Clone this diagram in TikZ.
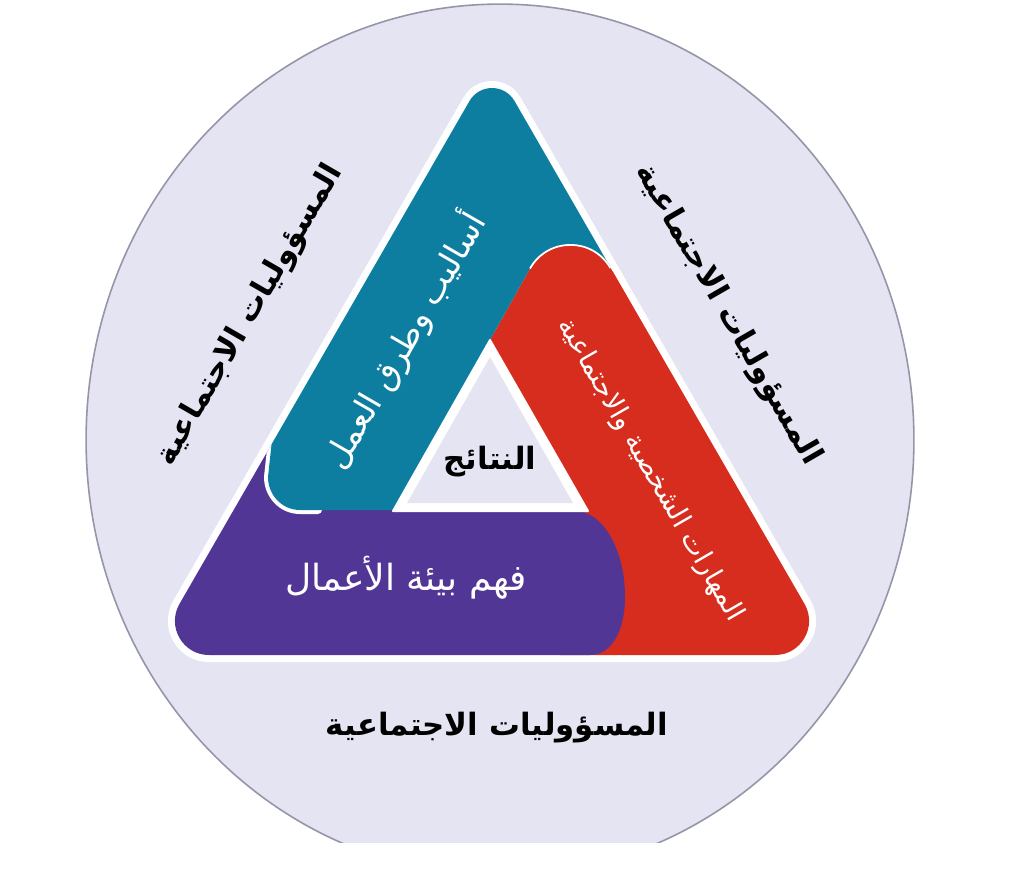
\documentclass[tikz,border=0pt]{standalone}
\usepackage{fontspec}
\TeXXeTstate=1
\newfontfamily\arabicfont[Script=Arabic]{DejaVu Sans}
\definecolor{bgLav}{RGB}{229,228,242}
\definecolor{ringGray}{RGB}{150,148,168}
\definecolor{tealC}{RGB}{14,126,160}
\definecolor{redC}{RGB}{214,45,30}
\definecolor{purpC}{RGB}{82,54,150}
\tikzset{
  bandtxt/.style={text=white, inner sep=0pt, font=\arabicfont\fontsize{#1}{#1}\selectfont},
  outtxt/.style={text=black, inner sep=0pt, font=\arabicfont\bfseries\fontsize{#1}{#1}\selectfont}
}
\begin{document}
\begin{tikzpicture}[x=0.02cm,y=-0.02cm]
\path[use as bounding box, fill=white] (0,0) rectangle (1024,870);
% outer lavender disc, cut flat at the bottom
\begin{scope}
  \clip (0,0) rectangle (1024,842);
  \filldraw[fill=bgLav, draw=ringGray, line width=0.9pt] (500,440) ellipse [x radius=8.28cm, y radius=8.72cm];
\end{scope}
% white rim of the triangle
\filldraw[white, line width=0.28cm, line join=round]
  (469.5,101) -- (179.5,603.9) .. controls (166.4,626.6) and (182.8,655) .. (209,655)
  -- (775,655) .. controls (801.2,655) and (817.6,626.6) .. (804.5,603.9)
  -- (514.5,101) .. controls (504.5,83.7) and (479.5,83.7) .. (469.5,101) -- cycle;
\begin{scope}
  \clip (469.5,101) -- (179.5,603.9) .. controls (166.4,626.6) and (182.8,655) .. (209,655)
  -- (775,655) .. controls (801.2,655) and (817.6,626.6) .. (804.5,603.9)
  -- (514.5,101) .. controls (504.5,83.7) and (479.5,83.7) .. (469.5,101) -- cycle;
  % red band (right)
  \fill[redC] (490,340) -- (530,268.5) .. controls (547.8,237.2) and (592.5,236.9) .. (610.5,268.1)
    -- (900,700) -- (560,700) -- (560,511) -- (588,511) -- cycle;
  % purple band (bottom)
  \fill[purpC] (100,445) -- (400,445) -- (400,511) -- (575,511)
    .. controls (603,511) and (625,550) .. (625,597)
    .. controls (625,630) and (612,655) .. (590,655) -- (590,700) -- (100,700) -- cycle;
  % white edge of the teal corner
  \draw[white, line width=0.16cm, line cap=round] (318,510) -- (300,510) .. controls (282,510) and (268,495) .. (268,477) -- (272,440);
  % teal band (left and apex)
  \fill[tealC] (100,0) -- (800,0) -- (700,268) -- (610.5,268.1)
    .. controls (592.5,236.9) and (547.8,237.2) .. (530,268.5) -- (490,340) -- (393,510)
    -- (300,510) .. controls (282,510) and (268,495) .. (268,477) -- (272,440) -- (100,440) -- cycle;
  % white edge of the red cap
  \draw[white, line width=0.035cm] (530,268.5) .. controls (547.8,237.2) and (592.5,236.9) .. (610.5,268.1);
\end{scope}
% central hole
\filldraw[white, line width=0.04cm, line join=round] (490,340) -- (393,511) -- (588,511) -- cycle;
\fill[bgLav] (490,357) -- (407,503) -- (573,503) -- cycle;
% texts
\node[bandtxt=19, rotate=60] (tmeth) at (404,340) {\beginR أساليب وطرق العمل\endR};
\node[bandtxt=15.5, rotate=-60] (tskill) at (650,470) {\beginR المهارات الشخصية والاجتماعية\endR};
\node[bandtxt=20.5] (tenv) at (406,578) {\beginR فهم بيئة الأعمال\endR};
\node[outtxt=17.5] (tres) at (490,462) {\beginR النتائج\endR};
\node[outtxt=17.5] (tbot) at (497,728) {\beginR المسؤوليات الاجتماعية\endR};
\node[outtxt=17.5, rotate=60] (tleft) at (250,315) {\beginR المسؤوليات الاجتماعية\endR};
\node[outtxt=17.5, rotate=-60] (tright) at (728,315) {\beginR المسؤوليات الاجتماعية\endR};
\end{tikzpicture}
\end{document}
